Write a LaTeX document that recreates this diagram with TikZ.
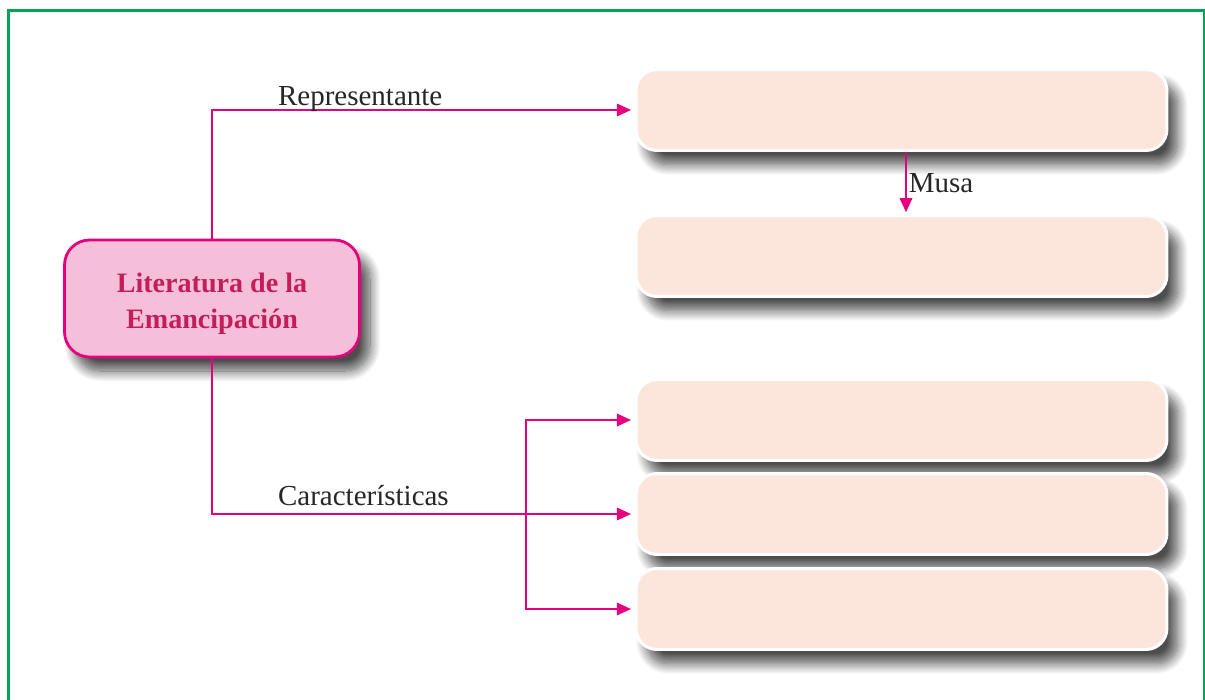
\documentclass[tikz,border=0pt]{standalone}
\usepackage{fontspec}
\setmainfont{Liberation Serif}
\usepackage{tikz}
\usetikzlibrary{shadows.blur, arrows.meta}

\definecolor{linkpink}{HTML}{E6007E}
\definecolor{mainfill}{HTML}{F6BFD9}
\definecolor{maintext}{HTML}{C41E5A}
\definecolor{boxfill}{HTML}{FCE6DC}
\definecolor{framegreen}{HTML}{00A651}

\begin{document}
\begin{tikzpicture}[x=0.02cm, y=-0.02cm]
      \useasboundingbox (0,0) rectangle (1205,700);
      \begin{scope}[mainbox/.style={draw=linkpink, fill=mainfill, line width=1.6pt, rounded corners=0.5cm, minimum width=5.9cm, minimum height=2.34cm, align=center, font=\fontsize{16}{20}\selectfont\bfseries, text=maintext, blur shadow={shadow xshift=6pt, shadow yshift=-8pt, shadow blur radius=6pt, shadow blur steps=14, shadow opacity=70}}, answerbox/.style={draw=white, fill=boxfill, line width=1.7pt, rounded corners=0.42cm, minimum width=10.62cm, minimum height=1.62cm, blur shadow={shadow xshift=6pt, shadow yshift=-8pt, shadow blur radius=6pt, shadow blur steps=14, shadow opacity=70}}, link/.style={linkpink, line width=1.3pt, -{Triangle[length=8pt, width=7pt]}}, lbl/.style={inner sep=1pt, font=\fontsize{16.5}{20}\selectfont, text=black!85}]
        \draw [framegreen, line width=1.6pt] (8.5,10.5) rectangle (1204.5,760);
        \node [mainbox] (lit) at (212,298.5) {\parbox{5cm}{\centering\vspace*{6pt}Literatura de la\\Emancipación}};
        \node [answerbox] (r1) at (901.5,110) {};
        \node [answerbox] (r2) at (901.5,256) {};
        \node [answerbox] (r3) at (901.5,420) {};
        \node [answerbox] (r4) at (901.5,514) {};
        \node [answerbox] (r5) at (901.5,609) {};
        \coordinate (bx) at (526,0);
        \coordinate (mx) at (906,0);
        \draw [link, shorten >=2pt] (lit.north) |- (r1.west);
        \draw [link, shorten >=2pt] (lit.south) |- (r4.west);
        \draw [linkpink, line width=1.3pt, line cap=rect] (bx |- r3.west) -- (bx |- r5.west);
        \foreach \x in {r3,r5} {\draw [link, shorten >=2pt] (bx |- \x.west) -- (\x.west);}
        \draw [link, shorten >=1pt] (mx |- r1.south) -- (mx |- r2.north) node [lbl, right, midway] {Musa};
        \node [lbl, anchor=south west] (rep) at (276,114) {Representante};
        \node [lbl, anchor=south west] (car) at (276,508) {Características};
      \end{scope}
    \end{tikzpicture}
\end{document}
